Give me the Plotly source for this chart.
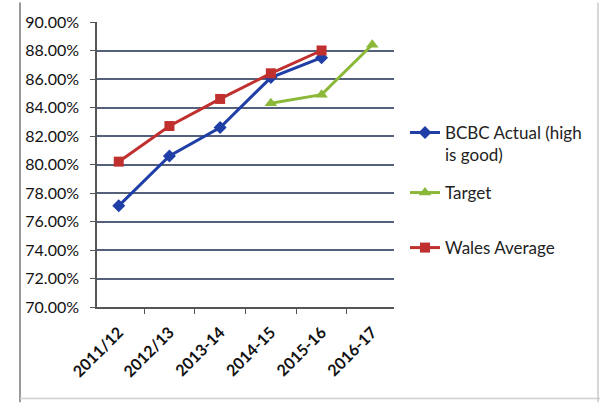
import plotly.graph_objects as go

categories = ["2011/12", "2012/13", "2013-14", "2014-15", "2015-16", "2016-17"]
bcbc_actual = [0.771, 0.806, 0.826, 0.861, 0.875, None]
target = [None, None, None, 0.843, 0.849, 0.884]
wales_avg = [0.802, 0.827, 0.846, 0.864, 0.880, None]

BLUE = "#1f3ea6"
GREEN = "#8cb83a"
RED = "#c0302e"
FONT = "Lato, Open Sans, sans-serif"

fig = go.Figure()
fig.add_trace(go.Scatter(
    x=categories, y=bcbc_actual, name="BCBC Actual (high<br>is good)",
    mode="lines+markers", line=dict(color=BLUE, width=3),
    marker=dict(symbol="diamond", size=10, color=BLUE), legend="legend", showlegend=True))
fig.add_trace(go.Scatter(
    x=categories, y=target, name="Target",
    mode="lines+markers", line=dict(color=GREEN, width=3),
    marker=dict(symbol="triangle-up", size=11, color=GREEN), legend="legend2", showlegend=True))
fig.add_trace(go.Scatter(
    x=categories, y=wales_avg, name="Wales Average",
    mode="lines+markers", line=dict(color=RED, width=3),
    marker=dict(symbol="square", size=10, color=RED), legend="legend3", showlegend=True))

leg_common = dict(x=1.037, xanchor="left", yanchor="middle", bgcolor="rgba(0,0,0,0)",
                  font=dict(family=FONT, size=17, color="#222"), itemwidth=30)

fig.update_layout(
    width=600, height=404,
    margin=dict(l=97, r=206, t=17, b=97),
    paper_bgcolor="white", plot_bgcolor="white",
    showlegend=True,
    legend=dict(y=(307 - 141) / 290, valign="top", **leg_common),
    legend2=dict(y=(307 - 191) / 290, **leg_common),
    legend3=dict(y=(307 - 247) / 290, **leg_common),
    xaxis=dict(
        type="category", tickson="boundaries", ticks="outside", ticklen=5,
        tickcolor="#555", showline=True, linecolor="#555", linewidth=1.5,
        showgrid=False, tickangle=-45, ticklabelstandoff=8,
        tickfont=dict(family=FONT, size=16, color="#111", weight="bold"),
    ),
    yaxis=dict(
        range=[0.70, 0.90], dtick=0.02, tickformat=".2%",
        ticks="outside", ticklen=5, tickcolor="#555",
        showline=True, linecolor="#555", linewidth=1.5,
        showgrid=True, gridcolor="#55607a", gridwidth=1.5,
        zeroline=False, ticklabelstandoff=8,
        tickfont=dict(family=FONT, size=16, color="#111"),
    ),
    shapes=[
        dict(type="line", xref="paper", yref="paper",
             x0=(20 - 97) / 297, x1=(20 - 97) / 297, y0=(307 - 404) / 290, y1=(307 + 0) / 290 + 0.01,
             line=dict(color="#9a9a9a", width=2)),
        dict(type="line", xref="paper", yref="paper",
             x0=(20 - 97) / 297, x1=(600 - 97) / 297, y0=(307 - 400) / 290, y1=(307 - 400) / 290,
             line=dict(color="#d0d0d0", width=1.5)),
        dict(type="line", xref="paper", yref="paper",
             x0=(598 - 97) / 297, x1=(598 - 97) / 297, y0=(307 - 404) / 290, y1=(307 + 0) / 290 + 0.01,
             line=dict(color="#c8c8c8", width=1.5)),
    ],
)

fig.write_html("out.html")
